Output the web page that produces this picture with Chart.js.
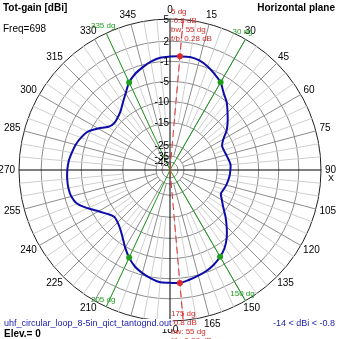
<!DOCTYPE html>
<html>
<head>
<meta charset="utf-8">
<script src="https://cdn.jsdelivr.net/npm/chart.js@4"></script>
<style>
html, body { margin: 0; padding: 0; background: #fff; }
canvas { display: block; }
</style>
</head>
<body>
<canvas id="polarChart" width="339" height="339"></canvas>
<script>
// azimuth (0 = up, clockwise) every 5 degrees
const azimuths = [0, 5, 10, 15, 20, 25, 30, 35, 40, 45, 50, 55, 60, 65, 70, 75, 80, 85,
    90, 95, 100, 105, 110, 115, 120, 125, 130, 135, 140, 145, 150, 155, 160, 165, 170, 175,
    180, 185, 190, 195, 200, 205, 210, 215, 220, 225, 230, 235, 240, 245, 250, 255, 260, 265,
    270, 275, 280, 285, 290, 295, 300, 305, 310, 315, 320, 325, 330, 335, 340, 345, 350, 355];

// total gain in dBi
const gainDbi = [-0.3, -0.2, -0.1, -0.3, -0.8, -1.6, -2.5, -4.0, -5.1, -6.8, -8.3, -9.8, -11.6, -12.6, -12.6, -12.4, -12.1, -11.8,
    -11.9, -12.0, -12.2, -12.4, -12.7, -12.9, -12.0, -10.8, -9.0, -7.1, -5.1, -3.7, -2.7, -1.9, -1.3, -0.9, -0.6, -0.3,
    -0.4, -0.4, -0.8, -1.4, -2.2, -3.4, -4.8, -6.5, -7.8, -8.6, -8.9, -8.0, -6.5, -4.6, -3.0, -2.3, -2.1, -2.1,
    -2.2, -2.4, -2.8, -3.2, -3.8, -4.6, -6.4, -8.3, -8.9, -8.6, -7.9, -6.6, -5.0, -3.4, -2.3, -1.5, -0.8, -0.4];

// ring labels of the log (ARRL style) radial scale and where they sit (fraction of radius)
const ringDbi = [5, 2, -1, -5, -10, -15, -25, -35, -45];
const ringFrac = [1, 0.853, 0.72, 0.587, 0.453, 0.313, 0.167, 0.093, 0.053];

const halfPowerDirs = [335, 30, 150, 205];
const maxGainDirs = [5, 175];
const maxGainInfo = ['-0.8 dB', 'bw: 55 dg', 'f/b: 0.28 dB'];

function dbToRadius(db) {
    if (db >= ringDbi[0]) return 1;
    for (let i = 1; i < ringDbi.length; i++) {
        if (db >= ringDbi[i]) {
            let t = (db - ringDbi[i]) / (ringDbi[i - 1] - ringDbi[i]);
            return ringFrac[i] + t * (ringFrac[i - 1] - ringFrac[i]);
        }
    }
    return Math.max(0, ringFrac[ringFrac.length - 1] * (db + 60) / 15);
}

const markerData = azimuths.map((a, i) =>
    (halfPowerDirs.includes(a) || maxGainDirs.includes(a)) ? dbToRadius(gainDbi[i]) : null);

const FONT = '"Liberation Sans", Arial, sans-serif';

const polarDecor = {
    id: 'polarDecor',
    beforeDatasetsDraw(chart) {
        const s = chart.scales.r;
        const ctx = chart.ctx;
        const R = s.drawingArea;
        const rMajor = s.getDistanceFromCenterForValue(dbToRadius(-35));
        const rMinor = s.getDistanceFromCenterForValue(dbToRadius(-15));
        ctx.save();
        ctx.lineWidth = 1;
        // spokes
        azimuths.forEach((a, i) => {
            if (a % 90 === 0) return;
            let inner = a % 15 === 0 ? rMajor : rMinor;
            let p1 = s.getPointPosition(i, inner);
            let p2 = s.getPointPosition(i, R);
            ctx.strokeStyle = a % 15 === 0 ? '#8c8c8c' : '#cfcfcf';
            ctx.beginPath();
            ctx.moveTo(p1.x, p1.y);
            ctx.lineTo(p2.x, p2.y);
            ctx.stroke();
        });
        // axes
        ctx.strokeStyle = '#000';
        azimuths.forEach((a, i) => {
            if (a % 90 !== 0) return;
            let p = s.getPointPosition(i, R);
            ctx.beginPath();
            ctx.moveTo(s.xCenter, s.yCenter);
            ctx.lineTo(p.x, p.y);
            ctx.stroke();
        });
        // half power directions
        ctx.strokeStyle = '#1f9a1f';
        halfPowerDirs.forEach(d => {
            let p = s.getPointPosition(azimuths.indexOf(d), R);
            ctx.beginPath();
            ctx.moveTo(s.xCenter, s.yCenter);
            ctx.lineTo(p.x, p.y);
            ctx.stroke();
        });
        // max gain directions
        ctx.strokeStyle = '#e02a2a';
        ctx.setLineDash([7, 4]);
        maxGainDirs.forEach(d => {
            let p = s.getPointPosition(azimuths.indexOf(d), R);
            ctx.beginPath();
            ctx.moveTo(s.xCenter, s.yCenter);
            ctx.lineTo(p.x, p.y);
            ctx.stroke();
        });
        ctx.restore();
    },
    afterDatasetsDraw(chart) {
        const s = chart.scales.r;
        const ctx = chart.ctx;
        const R = s.drawingArea;
        ctx.save();

        // ring labels
        ctx.font = '10px ' + FONT;
        ctx.fillStyle = '#000';
        ctx.textAlign = 'right';
        ctx.textBaseline = 'middle';
        ringDbi.forEach((v, i) => {
            let r = s.getDistanceFromCenterForValue(ringFrac[i]);
            ctx.fillText(String(v), s.xCenter - 1, s.yCenter - r + 1);
        });

        // azimuth labels
        ctx.textAlign = 'center';
        azimuths.forEach((a, i) => {
            if (a % 15 !== 0) return;
            let txt = String(a);
            let w = ctx.measureText(txt).width;
            let p = s.getPointPosition(i, R + 4);
            let rad = a * Math.PI / 180;
            ctx.fillText(txt, p.x + Math.sin(rad) * w / 2, p.y - Math.cos(rad) * 5);
        });
        ctx.font = '9px ' + FONT;
        let p90 = s.getPointPosition(azimuths.indexOf(90), R + 4);
        ctx.fillText('X', p90.x + 6, p90.y + 9);

        // half power labels
        ctx.font = '8px ' + FONT;
        ctx.fillStyle = '#1f9a1f';
        halfPowerDirs.forEach(d => {
            let p = s.getPointPosition(azimuths.indexOf(d), R);
            ctx.fillText(d + ' dg', p.x - 3, p.y - 7);
        });

        // max gain notes
        ctx.fillStyle = '#d42a2a';
        ctx.textAlign = 'left';
        ctx.textBaseline = 'middle';
        let tops = [12, 314];
        maxGainDirs.forEach((d, k) => {
            let lines = [d + ' dg'].concat(maxGainInfo);
            lines.forEach((t, j) => ctx.fillText(t, s.xCenter + 1, tops[k] + j * 9));
        });

        // corner texts
        ctx.fillStyle = '#000';
        ctx.font = 'bold 10px ' + FONT;
        ctx.fillText('Tot-gain [dBi]', 3, 8);
        ctx.fillText('Elev.= 0', 4, 334);
        ctx.textAlign = 'right';
        ctx.fillText('Horizontal plane', 335, 8);
        ctx.font = '10px ' + FONT;
        ctx.textAlign = 'left';
        ctx.fillText('Freq=698', 3, 29);

        ctx.font = '9px ' + FONT;
        let fname = 'uhf_circular_loop_8-5in_qict_tantognd.out';
        let fw = ctx.measureText(fname).width;
        ctx.fillStyle = '#fff';
        ctx.fillRect(3, 319, fw + 2, 10);
        ctx.fillStyle = '#2020b0';
        ctx.fillText(fname, 4, 324);
        ctx.textAlign = 'right';
        ctx.fillText('-14 < dBi < -0.8', 335, 324);
        ctx.restore();
    }
};

new Chart(document.getElementById('polarChart'), {
    type: 'radar',
    data: {
        labels: azimuths,
        datasets: [
            {
                label: 'markers',
                data: markerData,
                showLine: false,
                pointRadius: 3,
                pointBorderWidth: 0,
                pointBackgroundColor: ctx => maxGainDirs.includes(azimuths[ctx.dataIndex]) ? '#e02a2a' : '#1fa01f',
                borderColor: 'rgba(0,0,0,0)'
            },
            {
                label: 'Tot-gain',
                data: gainDbi.map(dbToRadius),
                borderColor: '#0c0ca8',
                borderWidth: 2,
                pointRadius: 0,
                fill: false,
                tension: 0.3
            }
        ]
    },
    options: {
        responsive: false,
        animation: false,
        devicePixelRatio: 1,
        layout: { padding: { left: 19, top: 19, right: 17, bottom: 17 } },
        plugins: { legend: { display: false }, tooltip: { enabled: false } },
        scales: {
            r: {
                min: 0,
                max: 1,
                startAngle: 0,
                afterBuildTicks: scale => {
                    scale.ticks = [0].concat(ringFrac.slice().reverse()).map(v => ({ value: v }));
                },
                ticks: { display: false },
                pointLabels: { display: false },
                angleLines: { display: false },
                grid: {
                    circular: true,
                    lineWidth: 1,
                    color: ctx => (ctx.tick && ctx.tick.value >= 1) ? '#202020' : '#8c8c8c'
                }
            }
        }
    },
    plugins: [polarDecor]
});
</script>
</body>
</html>
